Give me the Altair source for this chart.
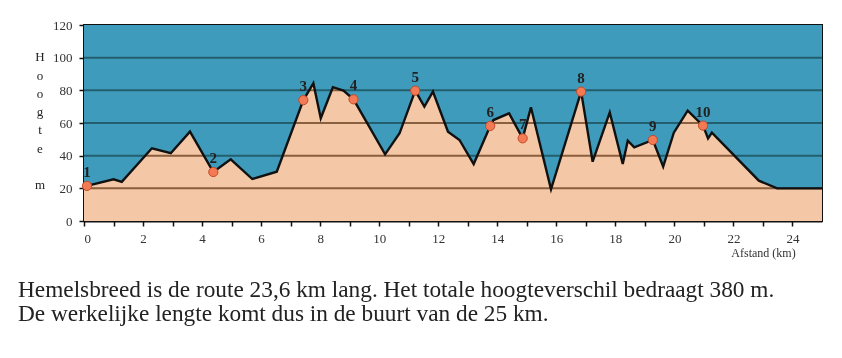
import altair as alt
import pandas as pd

# Elevation profile (distance in km, height in m)
km = [0, 1.0, 1.28, 2.3, 2.94, 3.59, 4.38, 4.97, 5.7, 6.53, 7.43, 7.77, 8.02, 8.43, 8.79,
      9.13, 10.2, 10.69, 11.22, 11.53, 11.82, 12.33, 12.72, 13.2, 13.76, 13.87, 14.4, 14.86,
      15.14, 15.82, 16.84, 17.23, 17.81, 18.25, 18.42, 18.64, 19.27, 19.62, 19.98, 20.45,
      20.97, 21.14, 21.27, 22.86, 23.48, 25.0]
elev = [21, 25.5, 24, 44.5, 41.5, 54.7, 30, 37.8, 25.7, 30.2, 74, 84.3, 62.9, 81.9, 79.8,
        74.5, 40.8, 53.7, 79.8, 70, 79.2, 54.7, 49.6, 34.9, 58.2, 61.8, 65.9, 50.6,
        69.6, 19.4, 79.2, 36.3, 66.5, 34.9, 49.2, 45.1, 49.6, 33.3, 54.1, 67.6,
        58.4, 50.6, 54.1, 24.7, 20, 20]

# Numbered points
pt_label = ["1", "2", "3", "4", "5", "6", "7", "8", "9", "10"]
pt_km = [0.1, 4.38, 7.43, 9.13, 11.22, 13.76, 14.86, 16.84, 19.27, 20.97]
pt_elev = [21.5, 30, 74, 74.5, 79.8, 58.2, 50.6, 79.2, 49.6, 58.4]

grid_values = [20, 40, 60, 80, 100]
x_ticks = list(range(0, 25))
y_ticks = [0, 20, 40, 60, 80, 100, 120]
y_title = ["H", "o", "o", "g", "t", "e", "", "m"]
x_title = "Afstand (km)"
captions = [
    "Hemelsbreed is de route 23,6 km lang. Het totale hoogteverschil bedraagt 380 m.",
    "De werkelijke lengte komt dus in de buurt van de 25 km.",
]

SERIF = "Liberation Serif"
SKY = "#3E9BBB"
GROUND = "#F4C8A6"

prof = pd.DataFrame({"km": km, "elev": elev})
pts = pd.DataFrame({"km": pt_km, "elev": pt_elev, "label": pt_label})
grid = pd.DataFrame({"g": grid_values})

xs = alt.Scale(domain=[0, 25], nice=False)
ys = alt.Scale(domain=[0, 120], nice=False)

AX = alt.Axis(
    values=x_ticks, labelExpr="datum.value % 2 == 0 ? datum.label : ''",
    labelOverlap=False, grid=False, tickSize=5, labelPadding=6, title=x_title,
    titleX=679, titleY=31, titleBaseline="middle", titleAlign="center",
    titleFont=SERIF, titleFontSize=12, titleFontWeight="normal", titleColor="#333")
AY = alt.Axis(
    values=y_ticks, labelOverlap=False, grid=False, tickSize=5,
    labelPadding=7, title="")

X = alt.X("km:Q", scale=xs, axis=AX)
Y = alt.Y("elev:Q", scale=ys, axis=AY)
G = alt.Y("g:Q", scale=ys, axis=AY)

ground = alt.Chart(prof).mark_area(color=GROUND, opacity=1).encode(x=X, y=Y)

brown_rules = alt.Chart(grid).mark_rule(color="#FFA06C", strokeWidth=2).encode(y=G)

sky = alt.Chart(prof).mark_area(color=SKY, opacity=1).encode(x=X, y=Y, y2=alt.datum(120))

teal_rules = alt.Chart(grid).mark_rule(color="#8A9A96", strokeWidth=2,
                                       blend="multiply").encode(y=G)

line = alt.Chart(prof).mark_line(color="#111", strokeWidth=2.4).encode(x=X, y=Y)

markers = alt.Chart(pts).mark_point(filled=True, size=85, fill="#F27A55",
                                    stroke="#C44A2A", strokeWidth=1, opacity=1).encode(
    x=X, y=Y)

labels = alt.Chart(pts).mark_text(dy=-14, font=SERIF, fontSize=15, fontWeight="bold",
                                  color="#222").encode(x=X, y=Y, text="label:N")

letter_layers = []
for i, ch in enumerate(y_title):
    if not ch:
        continue
    letter_layers.append(
        alt.Chart(pd.DataFrame({"t": [ch]})).mark_text(
            align="center", baseline="middle", font=SERIF, fontSize=13, color="#222"
        ).encode(x=alt.value(-44), y=alt.value(32.3 + i * 18.25), text="t:N")
    )

cap1 = alt.Chart(pd.DataFrame({"t": [captions[0]]})).mark_text(
    align="left", baseline="alphabetic", font=SERIF, fontSize=23.3, color="#222").encode(
    x=alt.value(-66), y=alt.value(272), text="t:N")
cap2 = alt.Chart(pd.DataFrame({"t": [captions[1]]})).mark_text(
    align="left", baseline="alphabetic", font=SERIF, fontSize=23.3, color="#222").encode(
    x=alt.value(-66), y=alt.value(296), text="t:N")

chart = alt.layer(ground, brown_rules, sky, teal_rules, line, markers, labels,
                  *letter_layers, cap1, cap2).properties(
    width=738, height=196,
    autosize=alt.AutoSizeParams(type="none"),
    padding={"left": 84, "top": 25, "right": 20, "bottom": 137},
    background="white",
).configure_view(
    stroke="#111", strokeWidth=2, fill=GROUND
).configure_axis(
    domainColor="#111", domainWidth=2, tickColor="#111", tickWidth=1.5,
    labelFont=SERIF, labelFontSize=13, labelColor="#333"
)

chart.save("out.html", embed_options={"renderer": "svg", "actions": False})
